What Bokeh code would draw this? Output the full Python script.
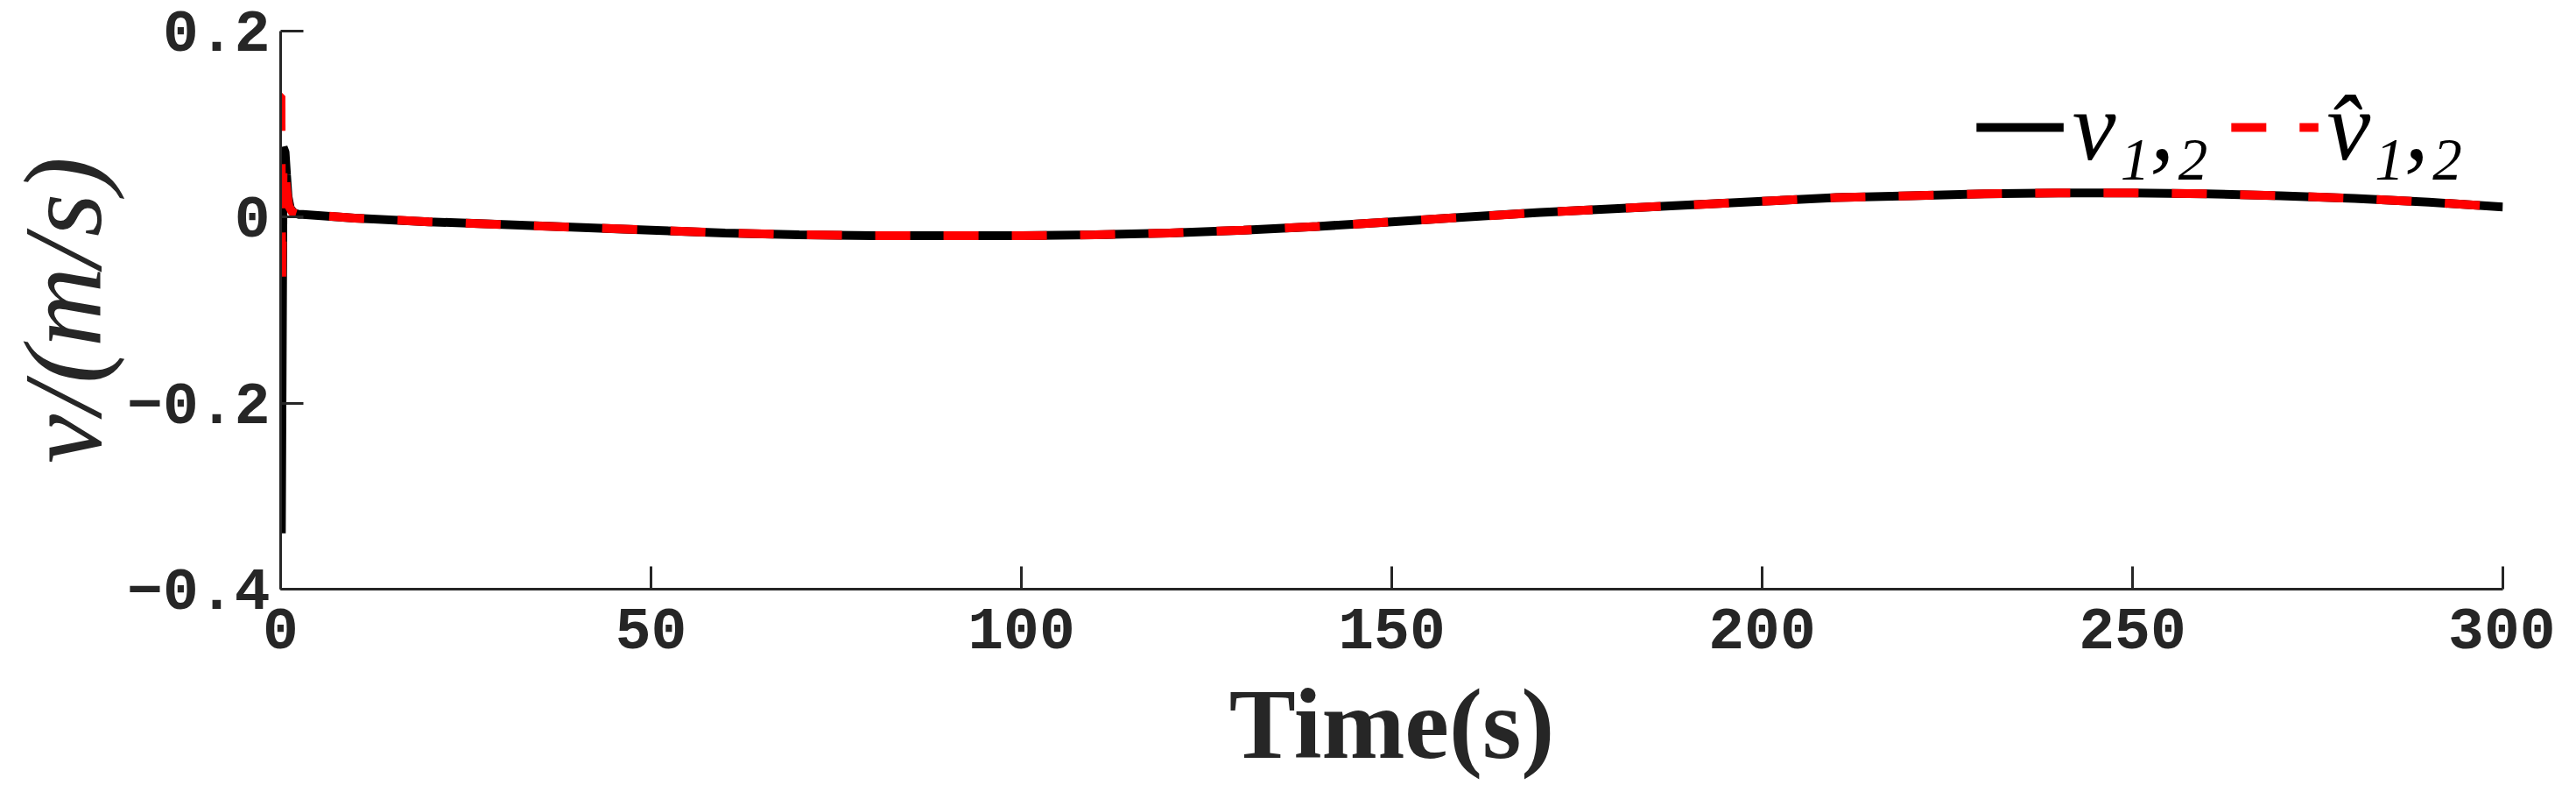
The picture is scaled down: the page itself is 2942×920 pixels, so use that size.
from bokeh.plotting import figure
from bokeh.models import FixedTicker, Legend, LegendItem, Range1d
from bokeh.embed import file_html
from bokeh.resources import INLINE

# ---- data ----
# fast transient at the start
t_fast_v = [0.0, 0.1, 0.35, 0.6, 0.8, 1.0, 1.3, 1.7, 2.4]
v_fast = [0.0, -0.34, 0.075, 0.07, 0.045, 0.022, 0.010, 0.005, 0.003]
t_fast_vhat = [0.0, 0.05, 0.15, 0.35, 0.6, 0.8, 1.1, 1.6, 2.4]
vhat_fast = [0.13, 0.13, -0.077, 0.06, 0.05, 0.03, 0.012, 0.005, 0.003]

# slow part (both signals overlap)
t_slow = [3, 10, 20, 30, 40, 50, 60, 70, 80, 90, 100, 110, 120, 130, 140, 150,
          160, 170, 180, 190, 200, 210, 220, 230, 240, 250, 260, 270, 280, 290, 300]
v_slow = [0.003, -0.001, -0.005, -0.008, -0.011, -0.014, -0.017, -0.019, -0.020,
          -0.020, -0.020, -0.019, -0.017, -0.014, -0.010, -0.005, 0.000, 0.005,
          0.009, 0.013, 0.017, 0.021, 0.023, 0.025, 0.026, 0.026, 0.025, 0.023,
          0.020, 0.016, 0.011]
vhat_slow = list(v_slow)

x_ticks = [0, 50, 100, 150, 200, 250, 300]
y_ticks = [-0.4, -0.2, 0, 0.2]
y_tick_labels = ["\u22120.4", "\u22120.2", "0", "0.2"]

legend_labels = ["v\u2081,\u2082", "v\u0302\u2081,\u2082"]
x_label = "Time(s)"
y_label = "v/(m/s)"

t_v = t_fast_v + t_slow
v = v_fast + v_slow
t_vh = t_fast_vhat + t_slow
vh = vhat_fast + vhat_slow

AX = "#262626"

p = figure(
    frame_width=2538, frame_height=637,
    min_border_left=320, min_border_top=35, min_border_right=60, min_border_bottom=225,
    x_range=Range1d(0, 300), y_range=Range1d(-0.4, 0.2),
    output_backend="svg", toolbar_location=None,
)
p.outline_line_color = None
p.xgrid.visible = False
p.ygrid.visible = False
p.background_fill_color = "white"
p.border_fill_color = "white"

r1 = p.line(t_v, v, line_color="black", line_width=10)
r2 = p.line(t_vh, vh, line_color="#ff0000", line_width=10, line_dash="40 38")

for ax in (p.xaxis[0], p.yaxis[0]):
    ax.axis_line_color = AX
    ax.axis_line_width = 3
    ax.major_tick_line_color = AX
    ax.major_tick_line_width = 3
    ax.major_tick_in = 26
    ax.major_tick_out = 0
    ax.minor_tick_line_color = None
    ax.major_label_text_font = "Liberation Mono"
    ax.major_label_text_font_style = "bold"
    ax.major_label_text_font_size = "68px"
    ax.major_label_text_color = AX
    ax.axis_label_text_color = AX

p.xaxis.ticker = FixedTicker(ticks=x_ticks)
p.yaxis.ticker = FixedTicker(ticks=y_ticks)
p.yaxis.major_label_overrides = {t: l for t, l in zip(y_ticks, y_tick_labels)}
p.xaxis.major_label_standoff = 22
p.yaxis.major_label_standoff = 12

p.xaxis.axis_label = x_label
p.xaxis.axis_label_text_font = "Liberation Serif"
p.xaxis.axis_label_text_font_style = "bold"
p.xaxis.axis_label_text_font_size = "114px"
p.xaxis.axis_label_standoff = 20

p.yaxis.axis_label = y_label
p.yaxis.axis_label_text_font = "Liberation Serif"
p.yaxis.axis_label_text_font_style = "italic"
p.yaxis.axis_label_text_font_size = "126px"
p.yaxis.axis_label_standoff = 0

legend = Legend(
    items=[LegendItem(label=legend_labels[0], renderers=[r1]),
           LegendItem(label=legend_labels[1], renderers=[r2])],
    location="top_right", orientation="horizontal",
    glyph_width=100, glyph_height=110, label_standoff=10, spacing=25,
    padding=0, margin=45,
    border_line_color=None, background_fill_alpha=0,
    label_text_font="Liberation Serif", label_text_font_style="italic",
    label_text_font_size="112px", label_text_color="black",
)
p.add_layout(legend)

open("out.html", "w").write(file_html(p, INLINE))
